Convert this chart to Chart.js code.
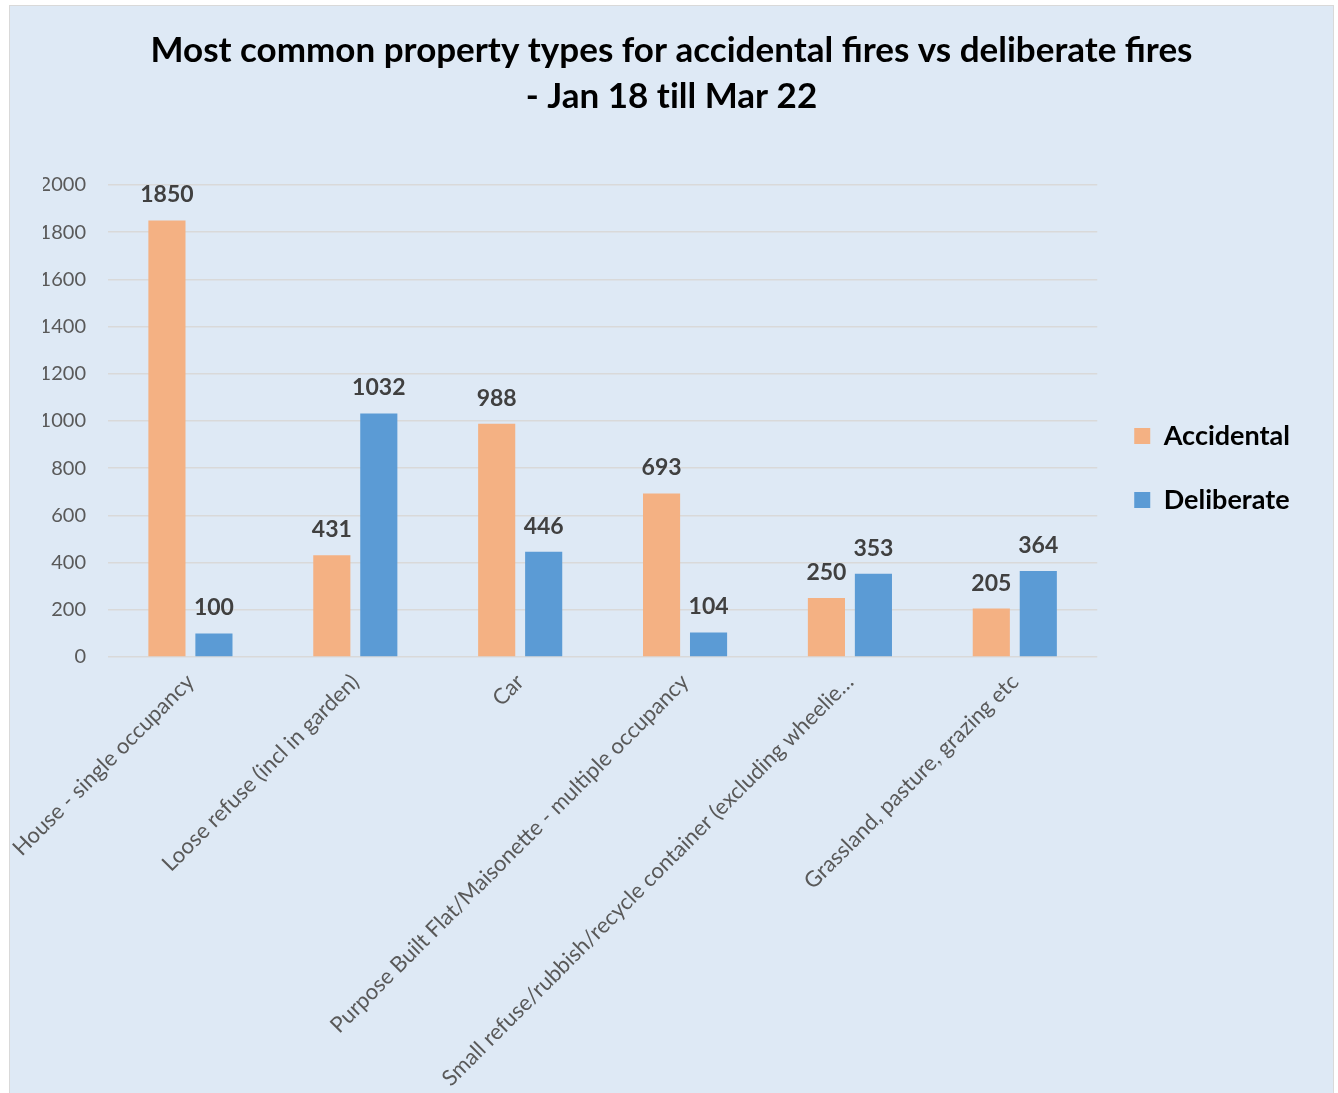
<!DOCTYPE html>
<html>
<head>
<meta charset="utf-8">
<script src="https://cdn.jsdelivr.net/npm/chart.js@4.4.1/dist/chart.umd.min.js"></script>
<style>
  body { margin: 0; background: #ffffff; }
  #box {
    position: absolute; left: 9px; top: 5px; width: 1323px; height: 1088px;
    background: #dee9f5; border: 1px solid #d9d9d9; border-bottom: none;
  }
  canvas { display: block; }
</style>
</head>
<body>
<div id="box"><canvas id="fireChart" width="1323" height="1088"></canvas></div>
<script>
var categories = [
    'House - single occupancy',
    'Loose refuse (incl in garden)',
    'Car',
    'Purpose Built Flat/Maisonette - multiple occupancy',
    'Small refuse/rubbish/recycle container (excluding wheelie…',
    'Grassland, pasture, grazing etc'
];
var accidental = [1850, 431, 988, 693, 250, 205];
var deliberate = [100, 1032, 446, 104, 353, 364];
var yMin = 0, yMax = 2000, yStep = 200;

var ctx = document.getElementById('fireChart').getContext('2d');

// bold value on top of every bar
var valueLabels = {
    id: 'valueLabels',
    afterDatasetsDraw: function(chart) {
        var c = chart.ctx;
        c.save();
        c.font = 'bold 23px Lato';
        c.fillStyle = '#404040';
        c.textAlign = 'center';
        c.textBaseline = 'alphabetic';
        chart.data.datasets.forEach(function(ds, i) {
            chart.getDatasetMeta(i).data.forEach(function(bar, j) {
                c.fillText(ds.data[j], bar.x, bar.y - 18);
            });
        });
        c.restore();
    }
};

var fireChart = new Chart(ctx, {
    type: 'bar',
    data: {
        labels: categories,
        datasets: [{
            label: 'Accidental',
            data: accidental,
            backgroundColor: '#f4b183',
            categoryPercentage: 0.57,
            barPercentage: 0.79
        }, {
            label: 'Deliberate',
            data: deliberate,
            backgroundColor: '#5b9bd5',
            categoryPercentage: 0.57,
            barPercentage: 0.79
        }]
    },
    options: {
        responsive: false,
        animation: false,
        // same padding left and right so the title stays centred
        layout: { padding: { left: 33, right: 33, top: 0, bottom: 0 } },
        plugins: {
            title: {
                display: true,
                // zero width non-joiner keeps "ti" from turning into a ligature
                text: ['Most common property types for accidental fires vs deliberate fires', '- Jan 18 t\u200Cill Mar 22'],
                color: '#000000',
                font: { family: 'Lato', size: 35, weight: 'bold', lineHeight: 1.3 },
                padding: { top: 22, bottom: 66 }
            },
            legend: {
                position: 'right',
                fullSize: false,
                // empty legend title only pushes the two items down a bit
                title: { display: true, text: '', font: { size: 10, lineHeight: 1 }, padding: { top: 84, bottom: 0 } },
                labels: {
                    boxWidth: 16,
                    boxHeight: 16,
                    padding: 37,
                    color: '#000000',
                    font: { family: 'Lato', size: 27, weight: 'bold' }
                }
            },
            tooltip: { enabled: false }
        },
        scales: {
            x: {
                grid: { display: false },
                border: { display: false },
                ticks: {
                    color: '#595959',
                    font: { family: 'Lato', size: 22 },
                    minRotation: 45,
                    maxRotation: 45,
                    autoSkip: false,
                    padding: 4
                },
                afterFit: function(scale) {
                    scale.height = 437;
                    // long rotated labels may hang out to the left, no extra room for them
                    scale.paddingLeft = 0;
                    scale.paddingRight = 0;
                }
            },
            y: {
                min: yMin,
                max: yMax,
                grid: { color: '#d9d9d9', lineWidth: 1.5, drawTicks: false },
                border: { display: false },
                ticks: {
                    stepSize: yStep,
                    color: '#595959',
                    font: { family: 'Lato', size: 20 },
                    padding: 22,
                    callback: function(value) { return String(value); }
                },
                afterFit: function(scale) { scale.width = 65; }
            }
        }
    },
    plugins: [valueLabels]
});
</script>
</body>
</html>
